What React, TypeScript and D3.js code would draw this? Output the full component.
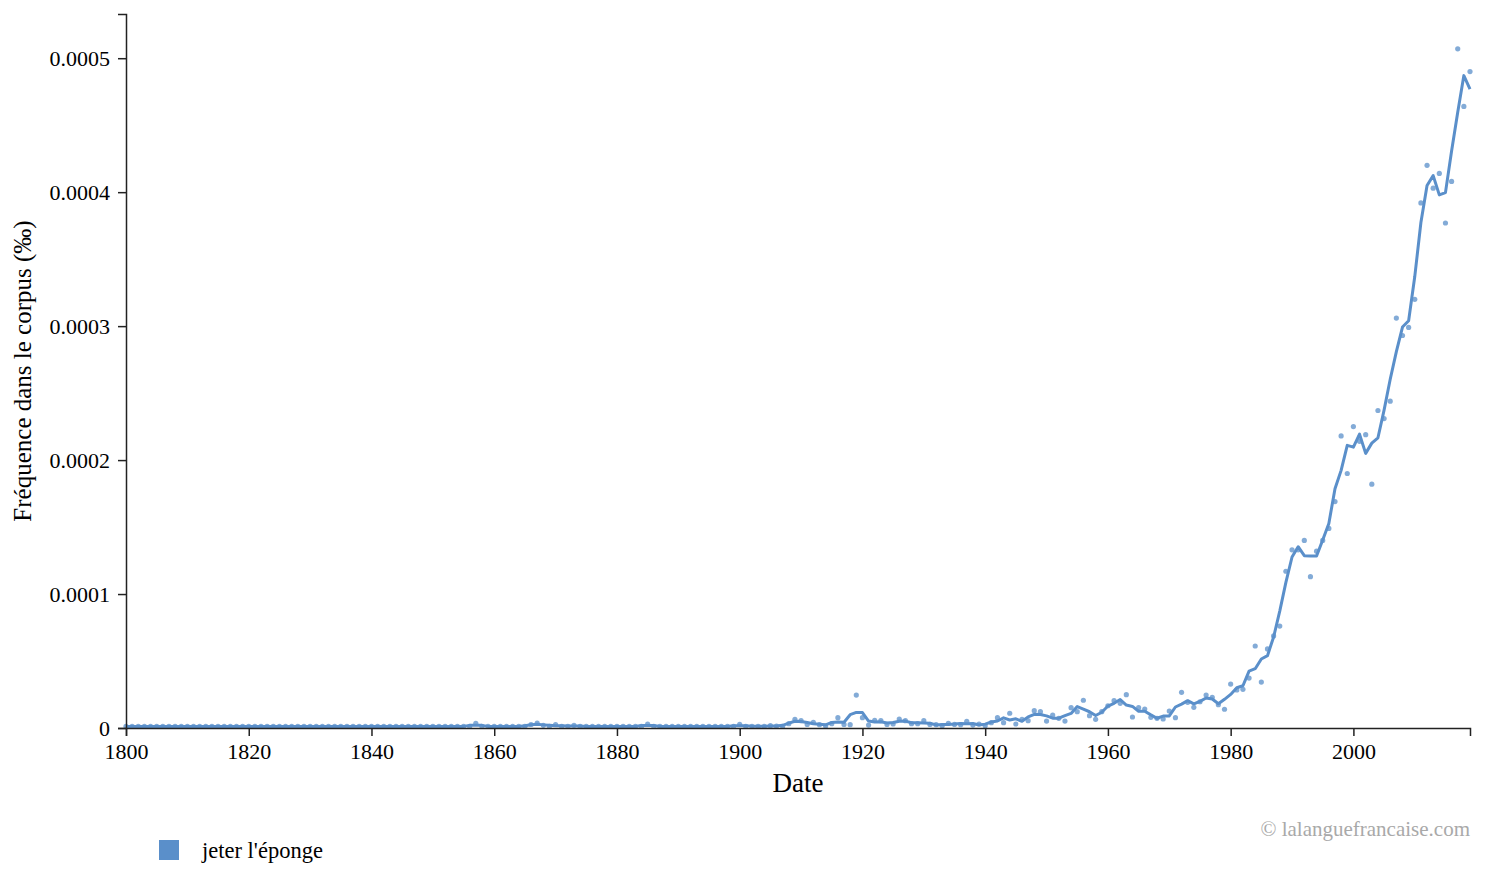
import React, { useRef, useEffect } from 'react';
import * as d3 from 'd3';

// one value per year, 1800..2019, in millionths (x 1e-6)
const firstYear = 1800;
const lastYear = 2019;
const frequencyE6: number[] = [
  // 1800s
  1.2, 1.2, 1.2, 1.2, 1.2, 1.2, 1.2, 1.2, 1.2, 1.2,
  // 1810s
  1.2, 1.2, 1.2, 1.2, 1.2, 1.2, 1.2, 1.2, 1.2, 1.2,
  // 1820s
  1.2, 1.2, 1.2, 1.2, 1.2, 1.2, 1.2, 1.2, 1.2, 1.2,
  // 1830s
  1.2, 1.2, 1.2, 1.2, 1.2, 1.2, 1.2, 1.2, 1.2, 1.2,
  // 1840s
  1.2, 1.2, 1.2, 1.2, 1.2, 1.2, 1.2, 1.2, 1.2, 1.2,
  // 1850s
  1.2, 1.2, 1.2, 1.2, 1.2, 1.2, 1.2, 3.5, 1.2, 1.2,
  // 1860s
  1.2, 1.2, 1.2, 1.2, 1.2, 1.2, 2.6, 3.7, 2.0, 1.3,
  // 1870s
  2.6, 1.2, 1.3, 2.0, 1.2, 1.2, 1.2, 1.2, 1.2, 1.2,
  // 1880s
  1.2, 1.2, 1.2, 1.2, 1.2, 3.0, 1.2, 1.2, 1.2, 1.2,
  // 1890s
  1.2, 1.2, 1.2, 1.2, 1.2, 1.2, 1.2, 1.2, 1.2, 1.2,
  // 1900s
  2.8, 1.2, 1.3, 1.2, 1.2, 1.7, 1.5, 1.2, 3.2, 6.5,
  // 1910s
  5.5, 2.7, 4.2, 2.5, 1.5, 3.2, 7.7, 2.7, 2.5, 24.6,
  // 1920s
  7.7, 2.2, 5.7, 5.5, 2.7, 3.0, 6.7, 5.5, 3.2, 3.2,
  // 1930s
  5.5, 2.7, 2.5, 1.7, 3.5, 2.7, 2.5, 5.0, 2.2, 3.0,
  // 1940s
  1.7, 4.0, 7.7, 4.0, 11.0, 3.0, 6.5, 5.5, 12.9, 12.2,
  // 1950s
  5.2, 9.7, 7.2, 5.2, 15.2, 12.2, 20.7, 9.2, 6.5, 12.2,
  // 1960s
  16.6, 20.4, 18.4, 24.9, 8.2, 15.2, 14.2, 8.0, 7.2, 6.7,
  // 1970s
  12.7, 7.7, 26.6, 19.2, 15.4, 19.6, 24.6, 22.9, 17.4, 14.0,
  // 1980s
  32.8, 28.4, 28.9, 37.3, 61.2, 34.3, 59.0, 68.7, 76.1, 117,
  // 1990s
  133, 133, 140, 113, 132, 140, 149, 169, 218, 190,
  // 2000s
  225, 214, 219, 182, 237, 231, 244, 306, 293, 299,
  // 2010s
  320, 392, 420, 403, 414, 377, 408, 507, 464, 490,
];

const xTicks = [1800, 1820, 1840, 1860, 1880, 1900, 1920, 1940, 1960, 1980, 2000];
const yTicks = [0, 0.0001, 0.0002, 0.0003, 0.0004, 0.0005];
const yTickLabels = ['0', '0.0001', '0.0002', '0.0003', '0.0004', '0.0005'];
const seriesName = "jeter l'éponge";

type Point = { year: number; value: number };

const W = 1485;
const H = 887;
const margin = { top: 14, right: 15, bottom: 159, left: 126 };
const color = '#5a8fca';
const font = '"Liberation Serif", "DejaVu Serif", serif';

const App = () => {
  const ref = useRef<SVGSVGElement | null>(null);

  useEffect(() => {
    if (!ref.current) return;
    const svg = d3.select(ref.current);
    svg.selectAll('*').remove();

    const points: Point[] = frequencyE6.map((v, i) => ({ year: firstYear + i, value: v * 1e-6 }));
    // centred 3-year rolling mean, as the site draws its trend line
    const smooth: Point[] = points.map((p, i) => ({
      year: p.year,
      value: d3.mean(points.slice(Math.max(0, i - 1), i + 2), (d) => d.value) ?? 0,
    }));

    const x = d3
      .scaleLinear()
      .domain([firstYear, lastYear])
      .range([margin.left, W - margin.right]);
    const y = d3
      .scaleLinear()
      .domain([0, 0.000533])
      .range([H - margin.bottom, margin.top]);

    svg
      .append('g')
      .selectAll('circle')
      .data(points)
      .enter()
      .append('circle')
      .attr('cx', (d) => x(d.year))
      .attr('cy', (d) => y(d.value))
      .attr('r', 2.6)
      .attr('fill', color)
      .attr('fill-opacity', 0.75);

    const line = d3
      .line<Point>()
      .x((d) => x(d.year))
      .y((d) => y(d.value));

    svg
      .append('path')
      .datum(smooth)
      .attr('fill', 'none')
      .attr('stroke', color)
      .attr('stroke-width', 3)
      .attr('stroke-linejoin', 'round')
      .attr('d', line);

    const xAxis = d3
      .axisBottom(x)
      .tickValues(xTicks)
      .tickFormat((d) => String(d))
      .tickSizeOuter(0)
      .tickSize(8)
      .tickPadding(7);
    const yAxis = d3
      .axisLeft(y)
      .tickValues(yTicks)
      .tickFormat((_d, i) => yTickLabels[i])
      .tickSizeOuter(0)
      .tickSize(8)
      .tickPadding(8);

    const gx = svg
      .append('g')
      .attr('transform', `translate(0,${H - margin.bottom})`)
      .call(xAxis);
    const gy = svg.append('g').attr('transform', `translate(${margin.left},0)`).call(yAxis);

    [gx, gy].forEach((g) => {
      g.select('.domain').attr('stroke', '#222').attr('stroke-width', 1.5);
      g.selectAll('.tick line').attr('stroke', '#222').attr('stroke-width', 1.5);
      g.selectAll('.tick text')
        .attr('fill', '#000')
        .style('font-family', font)
        .style('font-size', '22px');
    });

    svg
      .append('text')
      .attr('x', (margin.left + W - margin.right) / 2)
      .attr('y', 792)
      .attr('text-anchor', 'middle')
      .style('font-family', font)
      .style('font-size', '27px')
      .text('Date');

    svg
      .append('text')
      .attr('transform', `translate(31,${(margin.top + H - margin.bottom) / 2}) rotate(-90)`)
      .attr('text-anchor', 'middle')
      .style('font-family', font)
      .style('font-size', '25px')
      .text('Fréquence dans le corpus (‰)');

    svg
      .append('rect')
      .attr('x', 159)
      .attr('y', 840)
      .attr('width', 20)
      .attr('height', 20)
      .attr('fill', color);
    svg
      .append('text')
      .attr('x', 202)
      .attr('y', 858)
      .style('font-family', font)
      .style('font-size', '22.5px')
      .text(seriesName);

    svg
      .append('text')
      .attr('x', W - margin.right)
      .attr('y', 836)
      .attr('text-anchor', 'end')
      .attr('fill', '#a9a9a9')
      .style('font-family', font)
      .style('font-size', '21px')
      .text('© lalanguefrancaise.com');
  }, []);

  return (
    <svg
      ref={ref}
      width={W}
      height={H}
      style={{ position: 'absolute', left: 0, top: 0, background: '#fff' }}
    />
  );
};

export default App;
